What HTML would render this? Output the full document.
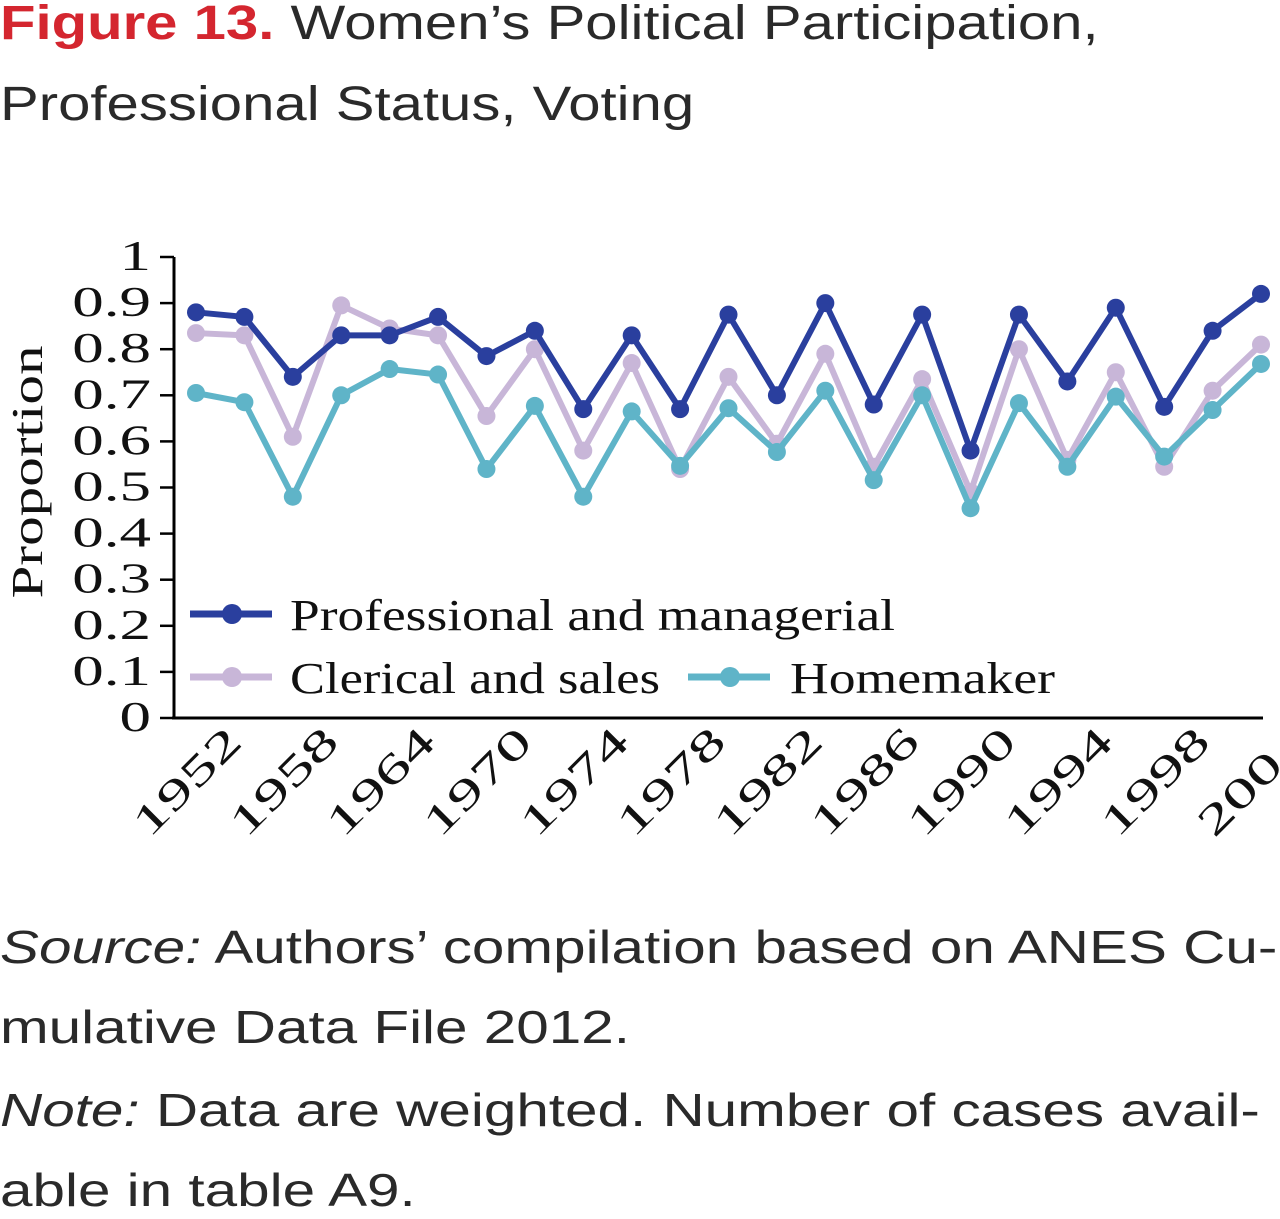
<!DOCTYPE html>
<html><head><meta charset="utf-8"><style>
body{margin:0;background:#fff;width:1280px;height:1219px;overflow:hidden;font-family:"Liberation Sans",sans-serif;}
.t{position:absolute;left:0;font-size:48px;color:#2a2a2a;white-space:nowrap;transform:scaleX(1.21);transform-origin:0 0;}
.n{position:absolute;left:0;font-size:46px;color:#2a2a2a;white-space:nowrap;transform:scaleX(1.27);transform-origin:0 0;}
</style></head><body>
<div class="t" style="top:-4px"><b style="color:#d4262f">Figure 13.</b> Women’s Political Participation,</div>
<div class="t" style="top:77px">Professional Status, Voting</div>
<svg id="chart" width="1280" height="880" style="position:absolute;left:0;top:0" font-family="Liberation Serif, serif"></svg>
<div class="n" style="top:920px"><i>Source:</i> Authors’ compilation based on ANES Cu-</div>
<div class="n" style="top:1000px">mulative Data File 2012.</div>
<div class="n" style="top:1083px"><i>Note:</i> Data are weighted. Number of cases avail-</div>
<div class="n" style="top:1163px">able in table A9.</div>
<script>
const categories=[1952,1956,1958,1960,1964,1966,1970,1972,1974,1976,1978,1980,1982,1984,1986,1988,1990,1992,1994,1996,1998,2000,2004];
const tickLabels=["1952","1958","1964","1970","1974","1978","1982","1986","1990","1994","1998","2004"];
const yTicks=[0,0.1,0.2,0.3,0.4,0.5,0.6,0.7,0.8,0.9,1];
const professional=[0.88,0.87,0.74,0.83,0.83,0.87,0.785,0.84,0.67,0.83,0.67,0.875,0.70,0.90,0.68,0.875,0.58,0.875,0.73,0.89,0.675,0.84,0.92];
const clerical=[0.835,0.83,0.61,0.895,0.845,0.83,0.655,0.80,0.58,0.77,0.54,0.74,0.595,0.79,0.545,0.735,0.49,0.80,0.56,0.75,0.545,0.71,0.81];
const homemaker=[0.705,0.685,0.48,0.70,0.757,0.745,0.54,0.677,0.48,0.665,0.547,0.672,0.577,0.71,0.516,0.70,0.455,0.683,0.545,0.697,0.567,0.668,0.768];
const NS='http://www.w3.org/2000/svg',svg=document.getElementById('chart');
const x0=196,x1=1261,yb=718,yt=257;
const X=i=>x0+(x1-x0)*i/(categories.length-1);
const Y=v=>yb-(yb-yt)*v;
function mk(t,a){const e=document.createElementNS(NS,t);for(const k in a)e.setAttribute(k,a[k]);svg.appendChild(e);return e;}
let e;
e=mk('line',{x1:174,y1:yt,x2:174,y2:yb,stroke:'#000','stroke-width':3});


e=mk('line',{x1:172,y1:yb,x2:1263,y2:yb,stroke:'#000','stroke-width':3});


yTicks.forEach(v=>{
 e=mk('line',{x1:160,y1:Y(v),x2:174,y2:Y(v),stroke:'#000','stroke-width':2.5});
 
 
 e=mk('text',{x:0,y:0,transform:`translate(151,${Y(v)+13}) scale(1.5,1)`,'text-anchor':'end','font-size':42,fill:'#111'});e.textContent=String(v);
 
 
});
e=mk('text',{x:0,y:0,transform:'translate(42,472) rotate(-90)','text-anchor':'middle','font-size':44,fill:'#111',textLength:253,lengthAdjust:'spacingAndGlyphs'});e.textContent='Proportion';


tickLabels.forEach((l,k)=>{
 const xx=X(k*2);
 e=mk('text',{x:0,y:0,transform:`translate(${xx+48},${744}) rotate(-45)`,'text-anchor':'end','font-size':42,fill:'#111',textLength:134,lengthAdjust:'spacingAndGlyphs'});e.textContent=l;
 
 
});
function series(vals,col,name){
 e=mk('polyline',{points:vals.map((v,i)=>X(i)+','+Y(v)).join(' '),fill:'none',stroke:col,'stroke-width':6,'stroke-linejoin':'round'});
 
 
 vals.forEach((v,i)=>{e=mk('circle',{cx:X(i),cy:Y(v),r:9,fill:col});
 
 });
}
const cP='#2a3f9e',cC='#c8b6d8',cH='#5fb4c8';
series(clerical,cC,'clerical');
series(homemaker,cH,'homemaker');
series(professional,cP,'professional');
function leg(lx,ly,col,label,tx,w,name){
 e=mk('line',{x1:lx,y1:ly,x2:lx+82,y2:ly,stroke:col,'stroke-width':7});
 
 
 e=mk('circle',{cx:lx+42,cy:ly,r:10,fill:col});
 
 
 e=mk('text',{x:tx,y:ly+16,'font-size':44,fill:'#111',textLength:w,lengthAdjust:'spacingAndGlyphs'});e.textContent=label;
 
 
}
leg(190,614,cP,'Professional and managerial',290,605,'professional');
leg(190,677,cC,'Clerical and sales',290,370,'clerical');
leg(688,677,cH,'Homemaker',790,265,'homemaker');
</script>
</body></html>
